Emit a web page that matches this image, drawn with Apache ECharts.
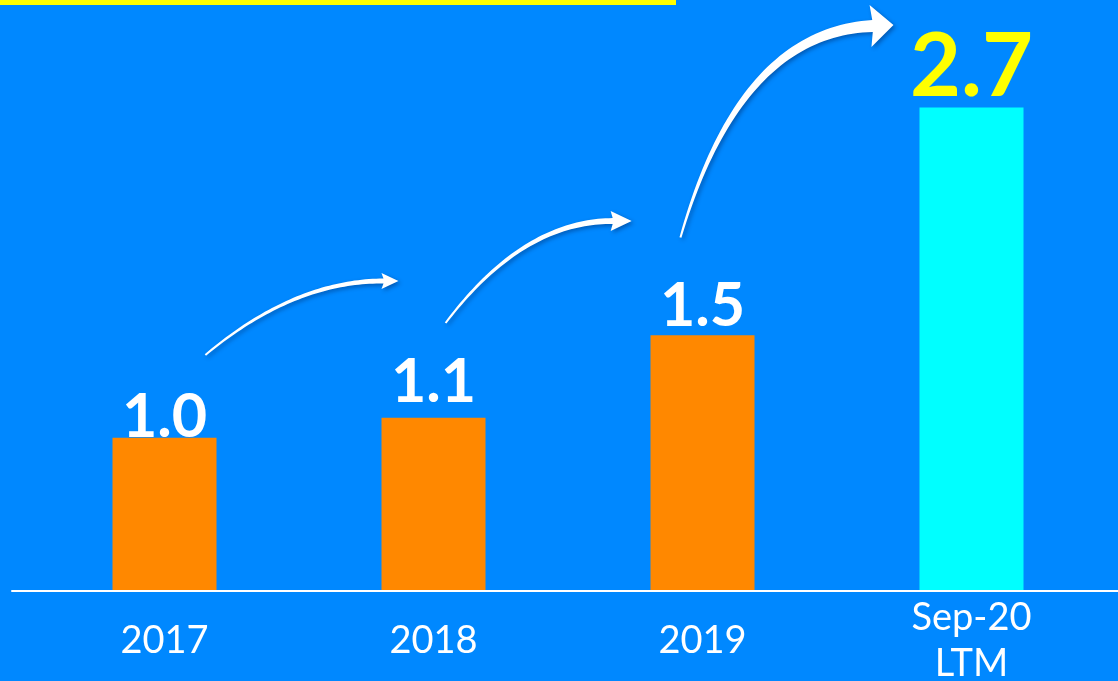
<!DOCTYPE html>
<html>
<head>
<meta charset="utf-8">
<script src="https://cdn.jsdelivr.net/npm/echarts@6/dist/echarts.min.js"></script>
<style>
html,body{margin:0;padding:0;background:#0088FF;}
#chart{width:1118px;height:681px;}
</style>
</head>
<body>
<div id="chart"></div>
<script>
// ---- data ----
const categories = ['2017', '2018', '2019', 'Sep-20\nLTM'];
const values = [1.0, 1.1, 1.5, 2.7];            // printed values
const barHeights = [1.0, 1.13, 1.67, 3.16];     // bar lengths as drawn (relative to 2017)

const chart = echarts.init(document.getElementById('chart'), null, {renderer: 'canvas'});
const labelGap = [-10, 5, -2, -4];

const option = {
  backgroundColor: '#0088FF',
  animation: false,
  grid: [
    {left: 30, right: 12, top: 55.5, bottom: 90.5, containLabel: false, outerBoundsMode: 'none'},
    {left: 12, right: 0, top: 55.5, bottom: 90.5, containLabel: false, outerBoundsMode: 'none'}
  ],
  xAxis: [
    {
      type: 'category', gridIndex: 0, data: categories,
      axisLine: {show: false}, axisTick: {show: false},
      axisLabel: {
        color: '#FFFFFF', fontFamily: 'Lato', fontSize: 38, lineHeight: 46,
        verticalAlign: 'middle', margin: 50, interval: 0
      }
    },
    {
      type: 'value', gridIndex: 1, min: 0, max: 1, z: 10,
      axisLine: {show: true, onZero: false, lineStyle: {color: '#FFFFFF', width: 2}},
      axisTick: {show: false}, axisLabel: {show: false}, splitLine: {show: false}
    }
  ],
  yAxis: [
    {type: 'value', gridIndex: 0, min: 0, max: 3.5, show: false},
    {type: 'value', gridIndex: 1, min: 0, max: 1, show: false}
  ],
  series: [{
    type: 'bar',
    xAxisIndex: 0, yAxisIndex: 0,
    barWidth: 104,
    data: barHeights.map((h, i) => ({
      value: h,
      itemStyle: {color: i === 3 ? '#00FFFF' : '#FF8800'},
      label: {
        show: true, position: 'top', distance: labelGap[i],
        formatter: values[i].toFixed(1),
        color: i === 3 ? '#FFFF00' : '#FFFFFF',
        fontFamily: 'Lato', fontWeight: 'bold',
        fontSize: i === 3 ? 88 : 61
      }
    }))
  }]
};
chart.setOption(option);

// ---- decorative curved arrows (positioned relative to bars via axis scales) ----
function P(i, frac, v) {
  const c0 = chart.convertToPixel({xAxisIndex: 0}, i);
  const c1 = chart.convertToPixel({xAxisIndex: 0}, i + 1);
  const y = chart.convertToPixel({yAxisIndex: 0}, v);
  return [c0 + frac * (c1 - c0), y];
}
const arrowDefs = [
  {from: 0, start: [0.152, 1.541], ctrl: [0.48, 2.025], end: [0.814, 2.025], w: [2, 5], head: [15, 8]},
  {from: 1, start: [0.045, 1.75], ctrl: [0.331, 2.417], end: [0.666, 2.417], w: [2, 6], head: [19, 10]},
  {from: 2, start: [-0.082, 2.309], ctrl: [0.138, 3.654], end: [0.632, 3.693], w: [2, 12], head: [21, 21]}
];
function arrowPoly(d) {
  const p0 = P(d.from, d.start[0], d.start[1]);
  const c = P(d.from, d.ctrl[0], d.ctrl[1]);
  const p1 = P(d.from, d.end[0], d.end[1]);
  const N = 50, L = [], R = [];
  for (let k = 0; k <= N; k++) {
    const t = k / N;
    const x = (1 - t) * (1 - t) * p0[0] + 2 * (1 - t) * t * c[0] + t * t * p1[0];
    const y = (1 - t) * (1 - t) * p0[1] + 2 * (1 - t) * t * c[1] + t * t * p1[1];
    let dx = 2 * (1 - t) * (c[0] - p0[0]) + 2 * t * (p1[0] - c[0]);
    let dy = 2 * (1 - t) * (c[1] - p0[1]) + 2 * t * (p1[1] - c[1]);
    const len = Math.hypot(dx, dy); dx /= len; dy /= len;
    const nx = -dy, ny = dx;
    const w = (d.w[0] + (d.w[1] - d.w[0]) * t) / 2;
    L.push([x + nx * w, y + ny * w]);
    R.push([x - nx * w, y - ny * w]);
  }
  let dx = p1[0] - c[0], dy = p1[1] - c[1];
  const len = Math.hypot(dx, dy); dx /= len; dy /= len;
  const nx = -dy, ny = dx;
  const hl = d.head[0], hh = d.head[1];
  const tip = [p1[0] + dx * hl, p1[1] + dy * hl];
  const bl = [p1[0] + nx * hh - dx * 2, p1[1] + ny * hh - dy * 2];
  const br = [p1[0] - nx * hh - dx * 2, p1[1] - ny * hh - dy * 2];
  return L.concat([bl, tip, br]).concat(R.reverse());
}
const graphics = [{
  type: 'rect', left: 0, top: 0, z: 5,
  shape: {x: 0, y: 0, width: 676, height: 5},
  style: {fill: '#FFFF00'}
}];
arrowDefs.forEach(d => {
  graphics.push({
    type: 'polygon', z: 20,
    shape: {points: arrowPoly(d)},
    style: {fill: '#FFFFFF', shadowColor: 'rgba(0,0,40,0.35)', shadowBlur: 4, shadowOffsetX: 2, shadowOffsetY: 2}
  });
});
chart.setOption({graphic: graphics});
</script>
</body>
</html>
